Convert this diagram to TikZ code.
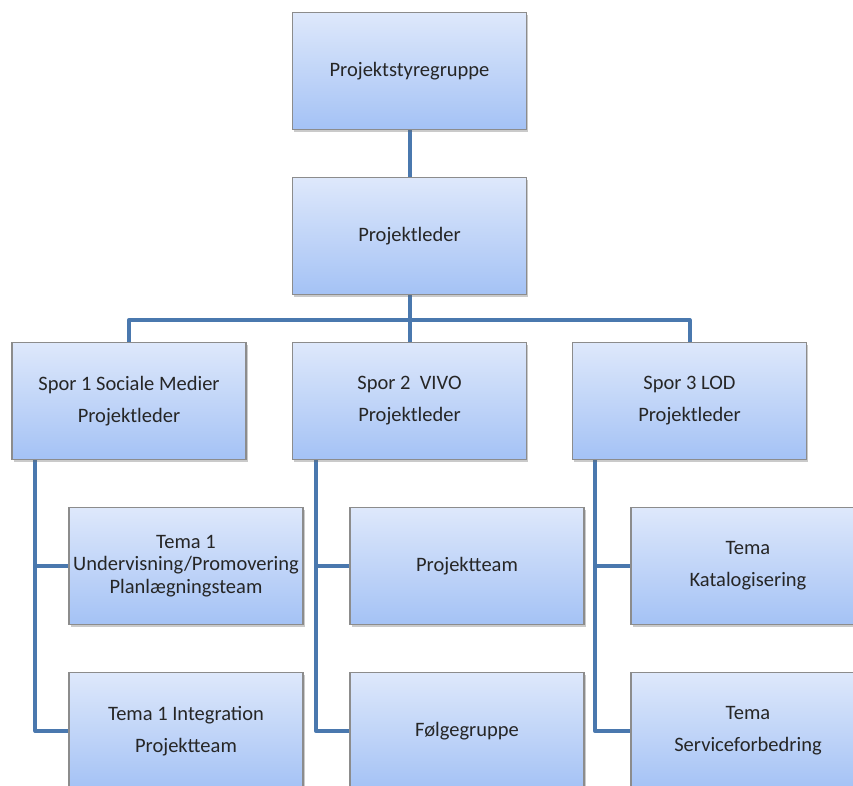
\documentclass[tikz,border=0pt]{standalone}
\usepackage{fontspec}
\setmainfont{Carlito}
\usetikzlibrary{shadows,backgrounds}
\definecolor{boxtop}{HTML}{DEE8FB}
\definecolor{boxbot}{HTML}{A4C2F5}
\definecolor{boxline}{HTML}{8C8C8C}
\definecolor{conn}{HTML}{4A78AE}
\definecolor{txt}{HTML}{262626}
\tikzset{
  orgbox/.style={rectangle, draw=boxline, line width=1.2pt,
    top color=boxtop, bottom color=boxbot,
    minimum width=234pt, minimum height=117pt, inner sep=2pt,
    align=center, text=txt,
    font=\fontsize{20.5}{32}\selectfont,
    drop shadow={opacity=0.35, shadow xshift=1.5pt, shadow yshift=-2pt, fill=black!60}},
  link/.style={draw=conn, line width=4pt, line join=round, line cap=butt}
}
\begin{document}
\begin{tikzpicture}[x=1pt,y=-1pt]
\useasboundingbox (0,0) rectangle (853,785);
\clip (0,0) rectangle (853,785);
\node[orgbox] (top) at (409.5,71) {Projektstyregruppe};
\node[orgbox] (pl) at (409.5,236) {Projektleder};
\node[orgbox] (s1) at (129,401) {Spor 1 Sociale Medier\\Projektleder};
\node[orgbox] (s2) at (409.5,401) {Spor 2\ \ VIVO\\Projektleder};
\node[orgbox] (s3) at (689.5,401) {Spor 3 LOD\\Projektleder};
\node[orgbox, font=\fontsize{20.5}{22.5}\selectfont] (c11) at (186,566) {Tema 1\\Undervisning/Promovering\\Planlægningsteam};
\node[orgbox] (c12) at (186,731) {Tema 1 Integration\\Projektteam};
\node[orgbox] (c21) at (467,566) {Projektteam};
\node[orgbox] (c22) at (467,731) {Følgegruppe};
\node[orgbox] (c31) at (748,566) {Tema\\Katalogisering};
\node[orgbox] (c32) at (748,731) {Tema\\Serviceforbedring};
\begin{scope}[on background layer]
\draw[link] (top.south) -- (pl.north);
\draw[link] (pl.south) -- (s2.north);
\draw[link] (s1.north) -- ++(0,-22) -| (s3.north);
\draw[link] ([xshift=24pt]s1.south west) |- (c12.west);
\draw[link] (c11.west) -- ++(-33,0);
\draw[link] ([xshift=24pt]s2.south west) |- (c22.west);
\draw[link] (c21.west) -- ++(-34,0);
\draw[link] ([xshift=23pt]s3.south west) |- (c32.west);
\draw[link] (c31.west) -- ++(-36,0);
\end{scope}
\end{tikzpicture}
\end{document}
